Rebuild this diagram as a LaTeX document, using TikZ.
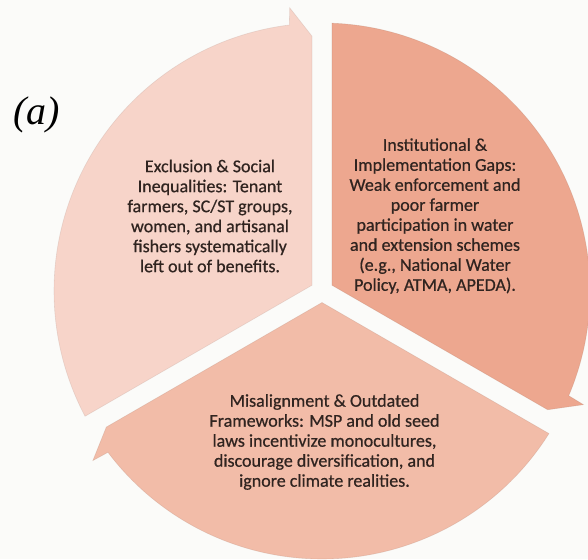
\documentclass[tikz,border=0pt]{standalone}
\usepackage{fontspec}
\setmainfont{Carlito}
\newfontfamily\segfont{Carlito}[FakeBold=0.6]
\newfontfamily\panelfont{Liberation Serif}
\usepackage{tikz}
\usetikzlibrary{
  positioning,
  calc
}
\definecolor{cyBack}{HTML}{FBFBF9}
\definecolor{cyLeft}{HTML}{F7D4C9}
\definecolor{cyRight}{HTML}{EDA78F}
\definecolor{cyBottom}{HTML}{F2BCA8}
\definecolor{cyText}{HTML}{302420}
\tikzset{
  segment/.style={fill=#1, draw=#1!80!black, draw opacity=0.35, line width=0.6pt},
  segtext/.style={
    font=\segfont\fontsize{18}{20}\selectfont, text=cyText, align=center, inner sep=0pt
  },
  panel/.style={font=\panelfont\itshape\fontsize{40}{40}\selectfont, inner sep=0pt}
}

\begin{document}
\begin{tikzpicture}[x=1pt, y=1pt]
  \useasboundingbox (-322,-268) rectangle (266,291);
  \fill[cyBack] (-322,-268) rectangle (266,291);
  % three segments of the cycle, each ending in a half arrow
  \filldraw[segment=cyLeft] (150:11.55) -- (207.86:268)
    arc[start angle=207.86, end angle=97, radius=268]
    -- (96.5:285) -- (92.25:255) -- cycle;
  \filldraw[segment=cyRight] (30:11.55) -- (87.86:268)
    arc[start angle=87.86, end angle=-23, radius=268]
    -- (-23.5:285) -- (-27.75:255) -- cycle;
  \filldraw[segment=cyBottom] (-90:11.55) -- (-32.14:268)
    arc[start angle=-32.14, end angle=-143, radius=268]
    -- (-143.5:285) -- (-147.75:255) -- cycle;
  \node[segtext] (exclusion) at (-112,75) {Exclusion \& Social\\Inequalities: Tenant\\farmers, SC/ST groups,\\women, and artisanal\\fishers systematically\\left out of benefits.};
  \node[segtext] (gaps) at (113,75) {Institutional \&\\Implementation Gaps:\\Weak enforcement and\\poor farmer\\participation in water\\and extension schemes\\(e.g., National Water\\Policy, ATMA, APEDA).};
  \node[segtext] (misalign) at (2.5,-151) {Misalignment \& Outdated\\Frameworks: MSP and old seed\\laws incentivize monocultures,\\discourage diversification, and\\ignore climate realities.};
  \node[panel] (label) at (-285,176) {(a)};
\end{tikzpicture}
\end{document}
